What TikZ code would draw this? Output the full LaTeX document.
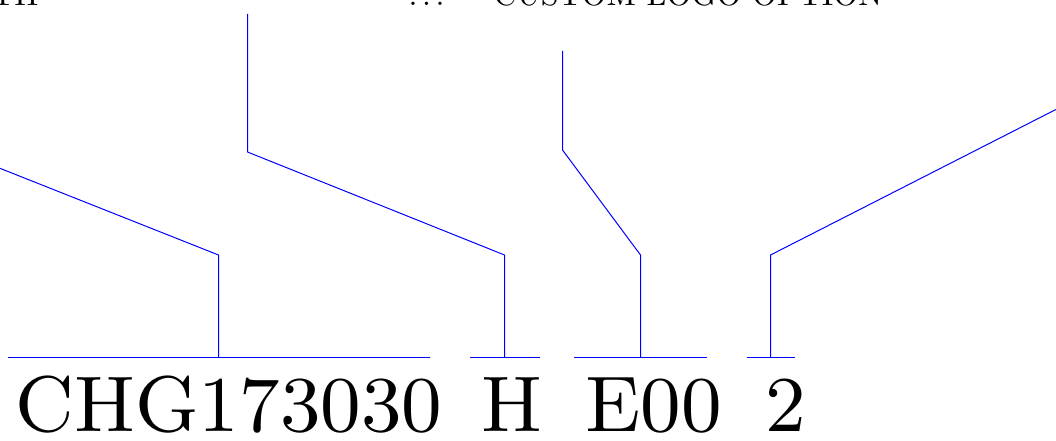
\documentclass[tikz,border=0pt]{standalone}
\begin{document}
\begin{tikzpicture}[x=1pt,y=-1pt,
  lead/.style={draw=blue,line width=1pt},
  uline/.style={draw=blue,line width=1.2pt},
  code/.style={inner sep=0pt,anchor=base west,scale=8.77,font=\fontsize{9}{11}\selectfont},
  lab/.style={inner sep=0pt,anchor=base west,scale=3.2,font=\fontsize{10}{12}\selectfont}]
\useasboundingbox (0,0) rectangle (1056,441);
\clip (0,0) rectangle (1056,441);
% code parts
\node[code] (c1) at (14,431) {CHG173030};
\node[code] (c2) at (480,431) {H};
\node[code] (c3) at (584,431) {E00};
\node[code] (c4) at (763.5,431) {2};
% top labels (cut off by the frame)
\node[lab,anchor=base east] (l1) at (39,5.5) {TH};
\node[lab] (l2) at (408,5.5) {.\kern1.44pt.\kern1.44pt.};
\node[lab] (l3) at (493,5.5) {CUSTOM LOGO OPTION};
% underline coordinates
\coordinate (u1a) at (8,357.5);   \coordinate (u1b) at (430,357.5);
\coordinate (u2a) at (470,357.5); \coordinate (u2b) at (540,357.5);
\coordinate (u3a) at (574,357.5); \coordinate (u3b) at (707,357.5);
\coordinate (u4a) at (747,357.5); \coordinate (u4b) at (795,357.5);
\coordinate (t1) at (218.5,357.5); \coordinate (k1) at (218.5,255); \coordinate (e1) at (-50,148.5);
\coordinate (t2) at (504.5,357.5); \coordinate (k2) at (504.5,255); \coordinate (m2) at (247.5,152); \coordinate (e2) at (247.5,14);
\coordinate (t3) at (640.5,357.5); \coordinate (k3) at (640.5,255); \coordinate (m3) at (562.5,150); \coordinate (e3) at (562.5,51);
\coordinate (t4) at (770.5,357.5); \coordinate (k4) at (770.5,255); \coordinate (e4) at (1100,87);
\draw[uline] (u1a) -- (u1b);
\draw[uline] (u2a) -- (u2b);
\draw[uline] (u3a) -- (u3b);
\draw[uline] (u4a) -- (u4b);
\draw[lead] (t1) -- (k1) -- (e1);
\draw[lead] (t2) -- (k2) -- (m2) -- (e2);
\draw[lead] (t3) -- (k3) -- (m3) -- (e3);
\draw[lead] (t4) -- (k4) -- (e4);
\end{tikzpicture}
\end{document}
